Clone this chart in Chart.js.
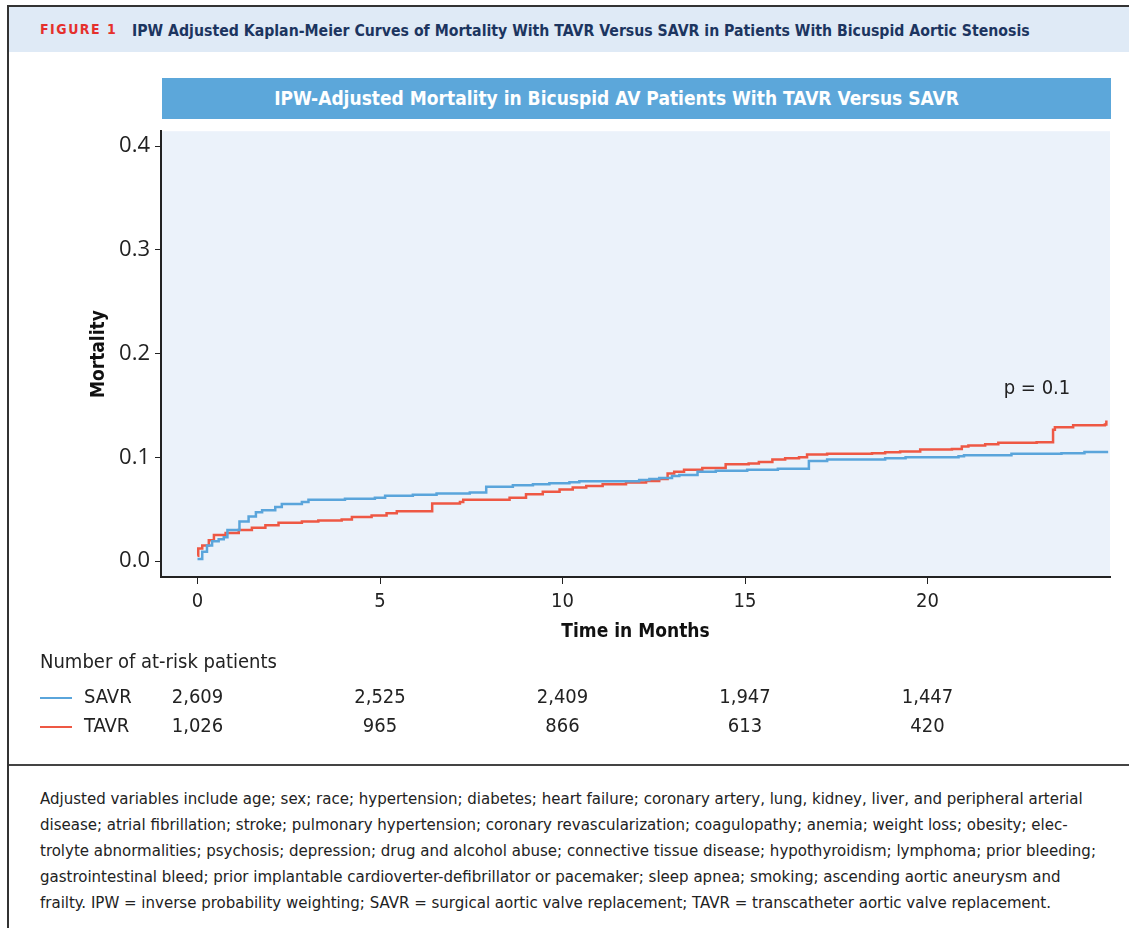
<!DOCTYPE html>
<html>
<head>
<meta charset="utf-8">
<script src="https://cdn.jsdelivr.net/npm/chart.js@4.4.1/dist/chart.umd.min.js"></script>
<style>
  body { margin: 0; width: 1129px; height: 928px; background: #fff; position: relative; overflow: hidden; font-family: "DejaVu Sans Condensed", "Liberation Sans Narrow", Roboto, sans-serif; }
  #frame { position: absolute; left: 7px; top: 5px; width: 1130px; height: 930px; border-left: 2px solid #333; border-top: 2px solid #333; }
  #band { position: absolute; left: 9px; top: 7px; width: 1120px; height: 45px; background: #dfeaf6; }
  #fig { position: absolute; left: 40px; top: 21px; font-size: 14px; font-weight: bold; color: #e5302c; letter-spacing: 1.5px; }
  #figtitle { position: absolute; left: 132px; top: 21px; font-size: 15.7px; font-weight: bold; color: #1c3560; white-space: nowrap; }
  #ctitle { position: absolute; left: 162px; top: 78px; width: 949px; height: 41px; background: #5ca7da; color: #fff; font-size: 19px; font-weight: bold; line-height: 41px; text-align: center; }
  #ctitle span { position: relative; left: -20px; }
  #wrap { position: absolute; left: 0; top: 113px; width: 1129px; height: 649px; }
  #sep { position: absolute; left: 9px; top: 764px; width: 1120px; height: 2px; background: #444; }
  #note { position: absolute; left: 40px; top: 785px; font-size: 16.7px; line-height: 26px; color: #222; white-space: nowrap; }
</style>
</head>
<body>
<div id="frame"></div>
<div id="band"></div>
<div id="fig">FIGURE 1</div>
<div id="figtitle">IPW Adjusted Kaplan-Meier Curves of Mortality With TAVR Versus SAVR in Patients With Bicuspid Aortic Stenosis</div>
<div id="ctitle"><span>IPW-Adjusted Mortality in Bicuspid AV Patients With TAVR Versus SAVR</span></div>
<div id="wrap"><canvas id="km"></canvas></div>
<div id="sep"></div>
<div id="note">Adjusted variables include age; sex; race; hypertension; diabetes; heart failure; coronary artery, lung, kidney, liver, and peripheral arterial<br>disease; atrial fibrillation; stroke; pulmonary hypertension; coronary revascularization; coagulopathy; anemia; weight loss; obesity; elec-<br>trolyte abnormalities; psychosis; depression; drug and alcohol abuse; connective tissue disease; hypothyroidism; lymphoma; prior bleeding;<br>gastrointestinal bleed; prior implantable cardioverter-defibrillator or pacemaker; sleep apnea; smoking; ascending aortic aneurysm and<br>frailty. IPW = inverse probability weighting; SAVR = surgical aortic valve replacement; TAVR = transcatheter aortic valve replacement.</div>

<script>
// KM curves (months, cumulative mortality)
const savrTime = [0, 0.13, 0.26, 0.40, 0.58, 0.72, 0.82, 1.15, 1.40, 1.60, 1.77, 2.13, 2.31, 2.86, 3.04, 4.04, 4.86, 5.14, 5.9, 6.55, 7.46, 7.91, 8.64, 9.19, 9.64, 10.19, 10.46, 12.1, 12.38, 12.65, 13.0, 13.2, 13.7, 14.2, 15.06, 15.9, 16.75, 17.25, 18.84, 19.4, 20.85, 21.0, 22.3, 23.67, 24.3, 24.95];
const savrMortality = [0.002, 0.009, 0.015, 0.019, 0.021, 0.023, 0.030, 0.038, 0.043, 0.047, 0.049, 0.052, 0.055, 0.057, 0.059, 0.060, 0.061, 0.063, 0.064, 0.065, 0.066, 0.0715, 0.073, 0.074, 0.075, 0.076, 0.077, 0.078, 0.079, 0.080, 0.082, 0.083, 0.086, 0.087, 0.088, 0.089, 0.0965, 0.098, 0.099, 0.100, 0.101, 0.102, 0.1035, 0.104, 0.105, 0.105];

const tavrTime = [0, 0.02, 0.13, 0.31, 0.45, 0.77, 1.13, 1.49, 1.86, 2.22, 2.86, 3.31, 3.95, 4.23, 4.77, 5.18, 5.46, 6.43, 7.19, 7.28, 8.55, 9.0, 9.46, 9.92, 10.28, 10.65, 11.1, 11.74, 12.29, 12.65, 12.88, 13.06, 13.33, 13.83, 14.47, 15.1, 15.38, 15.75, 16.1, 16.48, 16.7, 17.25, 18.48, 18.84, 19.25, 19.8, 20.67, 20.94, 21.12, 21.58, 21.94, 22.99, 23.44, 23.49, 23.99, 24.86, 24.9];
const tavrMortality = [0.005, 0.012, 0.015, 0.020, 0.025, 0.027, 0.030, 0.032, 0.0345, 0.037, 0.038, 0.039, 0.040, 0.0425, 0.044, 0.046, 0.048, 0.0555, 0.057, 0.059, 0.061, 0.0645, 0.0667, 0.069, 0.071, 0.0724, 0.074, 0.0757, 0.0772, 0.079, 0.0843, 0.086, 0.088, 0.0897, 0.0933, 0.094, 0.0955, 0.098, 0.099, 0.100, 0.1026, 0.1035, 0.104, 0.1048, 0.1055, 0.1075, 0.108, 0.1105, 0.1115, 0.1125, 0.114, 0.1145, 0.1266, 0.129, 0.1308, 0.1317, 0.1356];

const xTicks = [0, 5, 10, 15, 20];
const yTicks = [0, 0.1, 0.2, 0.3, 0.4];

// number at risk table
const riskTimes = [0, 5, 10, 15, 20];
const savrAtRisk = ['2,609', '2,525', '2,409', '1,947', '1,447'];
const tavrAtRisk = ['1,026', '965', '866', '613', '420'];

const pValueText = 'p = 0.1';
const pValueAt = { x: 23.0, y: 0.166 };

const blue = '#5aa5db';
const red = '#ee5844';
const condensed = '"DejaVu Sans Condensed", "Liberation Sans Narrow", Roboto, sans-serif';
const canvasTop = 113; // page offset of the canvas, used for the table rows below the axis

function pts(ts, ms) {
  return ts.map((t, i) => ({ x: t, y: ms[i] }));
}

// light blue plot background
const plotBg = {
  id: 'plotBg',
  beforeDraw(chart) {
    const a = chart.chartArea, ctx = chart.ctx;
    ctx.save();
    ctx.fillStyle = '#ebf2fa';
    ctx.fillRect(a.left, a.top, a.right - a.left, a.bottom - a.top);
    ctx.restore();
  }
};

// p value + at-risk table, placed with the x scale
const extras = {
  id: 'extras',
  afterDraw(chart) {
    const ctx = chart.ctx, xs = chart.scales.x, ys = chart.scales.y;
    ctx.save();
    ctx.fillStyle = '#222';
    ctx.textBaseline = 'middle';
    ctx.font = '20px ' + condensed;
    ctx.textAlign = 'center';
    ctx.fillText(pValueText, xs.getPixelForValue(pValueAt.x), ys.getPixelForValue(pValueAt.y));

    ctx.textAlign = 'left';
    ctx.fillText('Number of at-risk patients', 40, 663 - canvasTop);

    const rows = [['SAVR', blue, savrAtRisk, 698], ['TAVR', red, tavrAtRisk, 727]];
    rows.forEach(r => {
      const y = r[3] - canvasTop;
      ctx.strokeStyle = r[1];
      ctx.lineWidth = 2;
      ctx.beginPath();
      ctx.moveTo(40, y);
      ctx.lineTo(72, y);
      ctx.stroke();
      ctx.textAlign = 'left';
      ctx.fillText(r[0], 84, y);
      ctx.textAlign = 'center';
      r[2].forEach((v, i) => ctx.fillText(v, xs.getPixelForValue(riskTimes[i]), y));
    });
    ctx.restore();
  }
};

new Chart(document.getElementById('km'), {
  type: 'line',
  data: {
    datasets: [
      { label: 'SAVR', data: pts(savrTime, savrMortality), borderColor: blue, borderWidth: 2.5, stepped: true, pointRadius: 0, fill: false },
      { label: 'TAVR', data: pts(tavrTime, tavrMortality), borderColor: red, borderWidth: 2.5, stepped: true, pointRadius: 0, fill: false }
    ]
  },
  options: {
    responsive: true,
    maintainAspectRatio: false,
    animation: false,
    layout: { padding: { left: 84, right: 19, top: 0, bottom: 115 } },
    plugins: { legend: { display: false }, tooltip: { enabled: false } },
    scales: {
      x: {
        type: 'linear',
        min: -1,
        max: 25,
        afterBuildTicks: s => { s.ticks = xTicks.map(v => ({ value: v })); },
        afterFit: s => { s.height = 70; },
        grid: { drawOnChartArea: false, drawTicks: true, tickLength: 7, color: '#222' },
        border: { display: true, color: '#222', width: 2 },
        ticks: { color: '#222', font: { size: 20, family: condensed }, padding: 6, maxRotation: 0 },
        title: { display: true, text: 'Time in Months', color: '#111', font: { size: 19, weight: 'bold', family: condensed }, padding: 4 }
      },
      y: {
        min: -0.0154,
        max: 0.4144,
        afterBuildTicks: s => { s.ticks = yTicks.map(v => ({ value: v })); },
        afterFit: s => { s.width = 77; },
        grid: { drawOnChartArea: false, drawTicks: true, tickLength: 6, color: '#222' },
        border: { display: true, color: '#222', width: 2 },
        ticks: { color: '#222', font: { size: 22, family: '"Open Sans", sans-serif' }, padding: 5, callback: v => v.toFixed(1) },
        title: { display: true, text: 'Mortality', color: '#111', font: { size: 19, weight: 'bold', family: condensed }, padding: 4 }
      }
    }
  },
  plugins: [plotBg, extras]
});
</script>
</body>
</html>
